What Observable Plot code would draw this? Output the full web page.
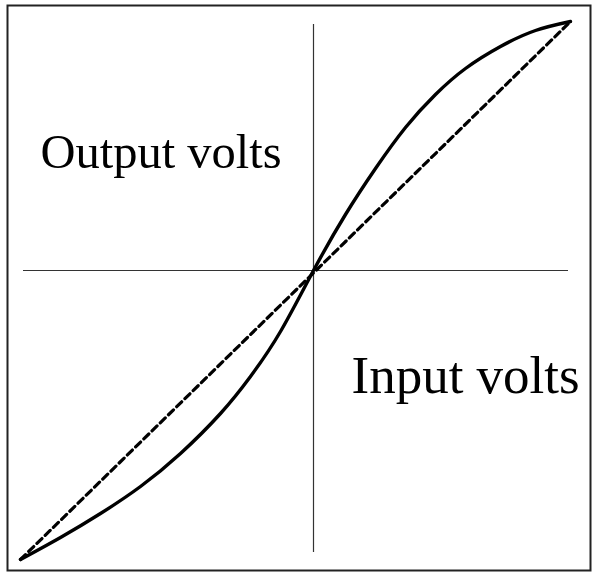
<!DOCTYPE html>
<html>
<head>
<meta charset="utf-8">
<script src="https://cdn.jsdelivr.net/npm/d3@7"></script>
<script src="https://cdn.jsdelivr.net/npm/@observablehq/plot@0.6"></script>
<style>
  html, body { margin: 0; padding: 0; background: #fff; }
</style>
</head>
<body>
<div id="chart"></div>
<script>
// Transfer curve (input volts -> output volts), arbitrary units, origin at axis crossing
const inputVolts  = [-293, -253, -213, -173, -133, -93, -63, -33, 0, 32, 62, 92, 122, 152, 187, 222, 257];
const outputVolts = [-289, -267, -243, -216, -183, -143, -106, -61, 0, 56, 102, 143, 176, 202, 224, 240, 249];

// Linear reference (dashed) endpoints
const linearIn  = [-293, 257];
const linearOut = [-289, 249];

// Axis extents
const xAxisExtent = [-290, 255];
const yAxisExtent = [-282, 246];

// Labels
const labelText = ["Output volts", "Input volts"];
const labelX = [-273, 38];
const labelY = [103, -122];
const labelSize = [48.5, 53];

const curve = inputVolts.map((x, i) => ({x, y: outputVolts[i]}));
const linear = linearIn.map((x, i) => ({x, y: linearOut[i]}));
const labels = labelText.map((t, i) => ({t, x: labelX[i], y: labelY[i], s: labelSize[i]}));

const chart = Plot.plot({
  width: 592,
  height: 573,
  marginLeft: 7,
  marginTop: 5,
  marginRight: 2,
  marginBottom: 3,
  x: {domain: [-306, 277], axis: null},
  y: {domain: [-300, 265], axis: null},
  style: {background: "#fff", overflow: "visible"},
  marks: [
    Plot.frame({stroke: "#222", strokeWidth: 2}),
    Plot.ruleX([0], {y1: yAxisExtent[0], y2: yAxisExtent[1], stroke: "#333", strokeWidth: 1.2}),
    Plot.ruleY([0], {x1: xAxisExtent[0], x2: xAxisExtent[1], stroke: "#333", strokeWidth: 1.2}),
    Plot.line(linear, {x: "x", y: "y", stroke: "#000", strokeWidth: 3.2, strokeDasharray: "7,4.5"}),
    Plot.line(curve, {x: "x", y: "y", curve: "natural", stroke: "#000", strokeWidth: 3.4}),
    ...labels.map(d => Plot.text([d], {x: "x", y: "y", text: "t", textAnchor: "start", lineAnchor: "bottom",
      fontFamily: "'Liberation Serif', 'Times New Roman', serif", fontSize: d.s, fill: "#000"}))
  ]
});
document.getElementById("chart").appendChild(chart);
</script>
</body>
</html>
